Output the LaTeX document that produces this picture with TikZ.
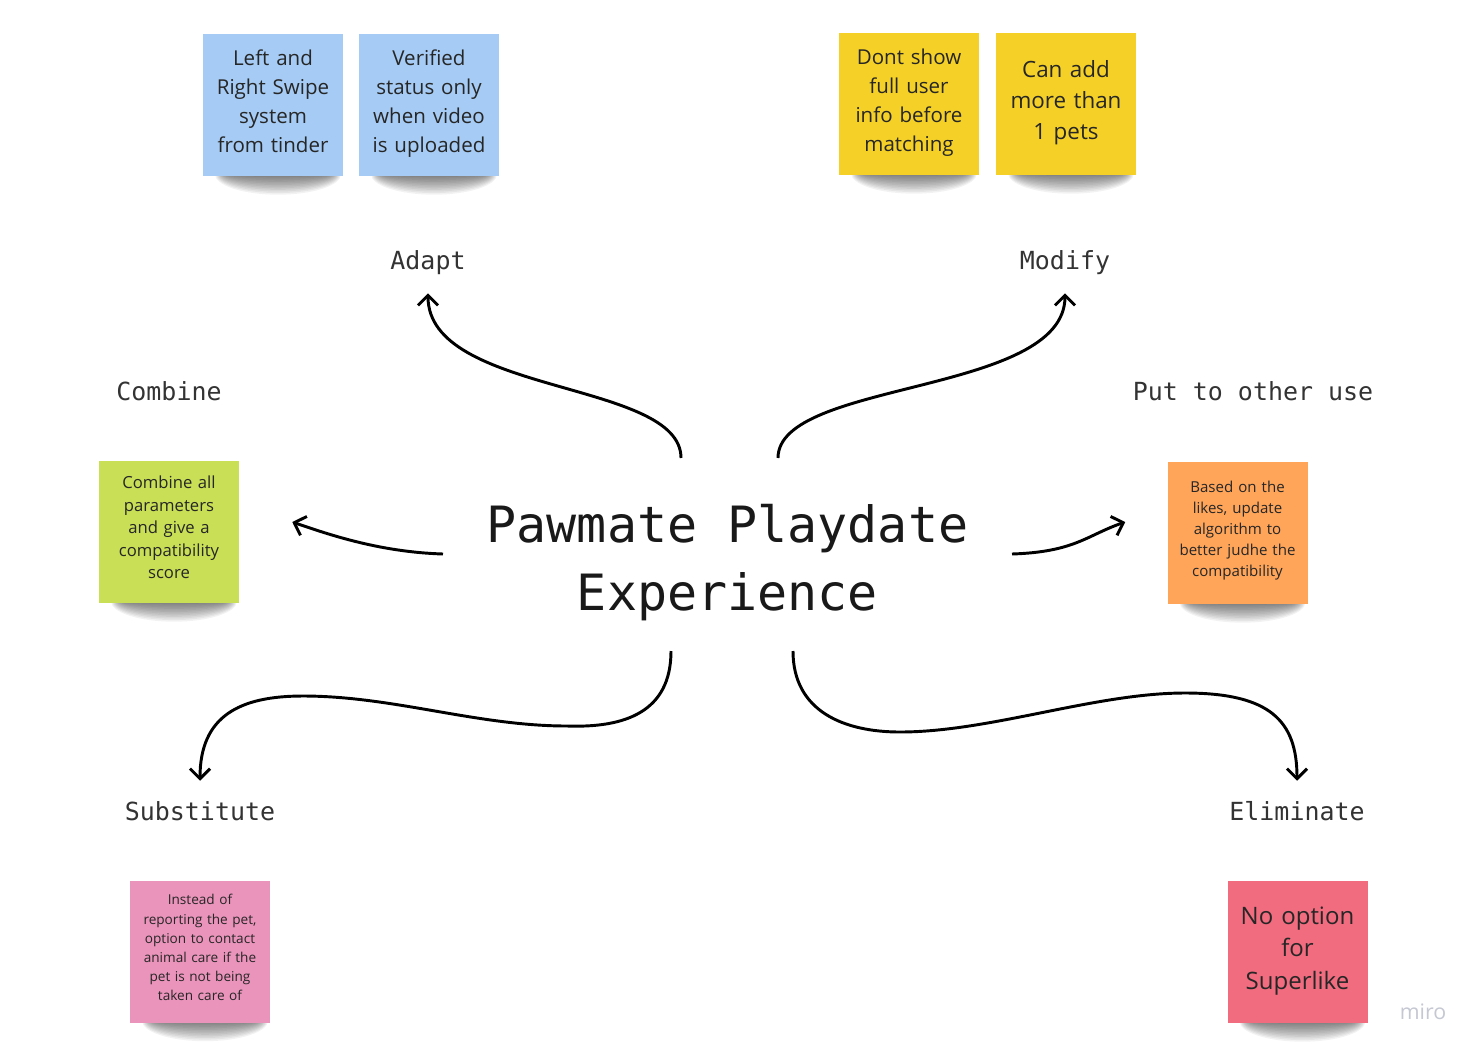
\documentclass[tikz,border=0pt]{standalone}
\usepackage{fontspec}
\setmainfont{Open Sans}
\newfontfamily\plexfont{DejaVu Sans Mono}
\usetikzlibrary{arrows.meta}

\definecolor{noteblue}{HTML}{A6CCF5}
\definecolor{noteyellow}{HTML}{F5D128}
\definecolor{notegreen}{HTML}{C9DF56}
\definecolor{noteorange}{HTML}{FFA55A}
\definecolor{notepink}{HTML}{EA94BB}
\definecolor{notered}{HTML}{F16C7F}
\definecolor{inkgray}{HTML}{333333}
\definecolor{mirogray}{HTML}{C5C8D2}

\pgfdeclarelayer{background}
\pgfsetlayers{background,main}

\newcommand\notestrut{\rule[\dimexpr-.22\baselineskip-3.4pt\relax]{0pt}{\baselineskip}}

\tikzset{
  note/.style={rectangle, minimum width=105pt, minimum height=106.5pt, text width=96pt,
    align=center, inner sep=0pt, text=black!85,
    execute at begin node=\notestrut, execute at end node=\notestrut},
  hatlabel/.style={font=\plexfont\fontsize{18.7pt}{22pt}\selectfont, text=inkgray,
    minimum height=45pt, inner sep=0pt},
  arr/.style={draw, line width=2.2pt, -{Straight Barb[length=7.5pt,width=15pt]}}
}

\begin{document}
\begin{tikzpicture}[x=0.75pt,y=-0.75pt]
  \useasboundingbox (0,0) rectangle (1481,1054);

  % centre
  \node[font=\plexfont\fontsize{37.5pt}{51pt}\selectfont, text=black!90, align=center] (pawmate) at (727.5,563) {Pawmate Playdate\\Experience};

  % SCAMPER labels
  \node[hatlabel] (adapt) at (428,263) {Adapt};
  \node[hatlabel] (modify) at (1065,263) {Modify};
  \node[hatlabel] (combine) at (169,391) {Combine};
  \node[hatlabel] (putuse) at (1253,391) {Put to other use};
  \node[hatlabel] (substitute) at (200,811) {Substitute};
  \node[hatlabel] (eliminate) at (1297,811) {Eliminate};

  % sticky notes
  \node[note, fill=noteblue, font=\fontsize{15.4pt}{21.75pt}\selectfont] (swipe) at (273,105) {Left and\\Right Swipe\\system\\from tinder};
  \node[note, fill=noteblue, font=\fontsize{15.4pt}{21.75pt}\selectfont, right of=swipe, node distance=117pt] (verified) {Verified\\status only\\when video\\is uploaded};
  \node[note, fill=noteyellow, font=\fontsize{15.4pt}{21.75pt}\selectfont] (dontshow) at (909,104) {Dont show\\full user\\info before\\matching};
  \node[note, fill=noteyellow, font=\fontsize{16.8pt}{23.25pt}\selectfont, right of=dontshow, node distance=117.75pt] (morepets) {Can add\\more than\\1 pets};
  \node[note, fill=notegreen, font=\fontsize{12.5pt}{16.9pt}\selectfont] (scorenote) at (169,532) {Combine all\\parameters\\and give a\\compatibility\\score};
  \node[note, fill=noteorange, font=\fontsize{11.3pt}{15.75pt}\selectfont] (likesnote) at (1237.5,533) {Based on the\\likes, update\\algorithm to\\better judhe the\\compatibility};
  \node[note, fill=notepink, font=\fontsize{10.2pt}{14.25pt}\selectfont] (carenote) at (200,951.5) {Instead of\\reporting the pet,\\option to contact\\animal care if the\\pet is not being\\taken care of};
  \node[note, fill=notered, font=\fontsize{18pt}{24.4pt}\selectfont] (superlike) at (1297.5,952) {No option\\for\\Superlike};

  \node[text=mirogray, font=\fontsize{16pt}{16pt}\selectfont] (miro) at (1423,1012) {miro};

  % page and note shadows
  \begin{pgfonlayer}{background}
    \fill[white] (0,0) rectangle (1481,1054);
    \foreach \n in {swipe,verified,dontshow,morepets,scorenote,likesnote,carenote,superlike}
      \foreach \k in {1,...,12}
        \fill[black, opacity=.05] ([shift={(5,-2)}]\n.south) ellipse [x radius={64-\k}, y radius={22-1.6*\k}];
  \end{pgfonlayer}

  % arrows
  \coordinate (subdip) at (567,726);
  \coordinate (subrise) at (303,696);
  \coordinate (elimdip) at (900,732);
  \coordinate (elimrise) at (1185,693);
  \path[arr] ([shift={(-46.5,-105)}]pawmate.center) .. controls +(0,-78) and +(0,102) .. (adapt.south);
  \path[arr] ([shift={(50.5,-105)}]pawmate.center) .. controls +(0,-78) and +(0,102) .. (modify.south);
  \path[arr] ([shift={(-284.5,-9)}]pawmate.center) .. controls +(-63,-2) and +(38,13) .. ([shift={(53,-10)}]scorenote.east);
  \path[arr] ([shift={(284.5,-9)}]pawmate.center) .. controls +(63,-2) and +(-38,13) .. ([shift={(-42,-11)}]likesnote.west);
  \path[arr] ([shift={(-56.5,88)}]pawmate.center) .. controls +(0,61) and +(58,2) .. (subdip)
    .. controls +(-90,0) and +(90,0) .. (subrise) .. controls +(-63,0) and +(0,-65) .. (substitute.north);
  \path[arr] ([shift={(65.5,88)}]pawmate.center) .. controls +(0,61) and +(-55,0) .. (elimdip)
    .. controls +(90,0) and +(-90,0) .. (elimrise) .. controls +(85,0) and +(0,-60) .. (eliminate.north);
\end{tikzpicture}
\end{document}
